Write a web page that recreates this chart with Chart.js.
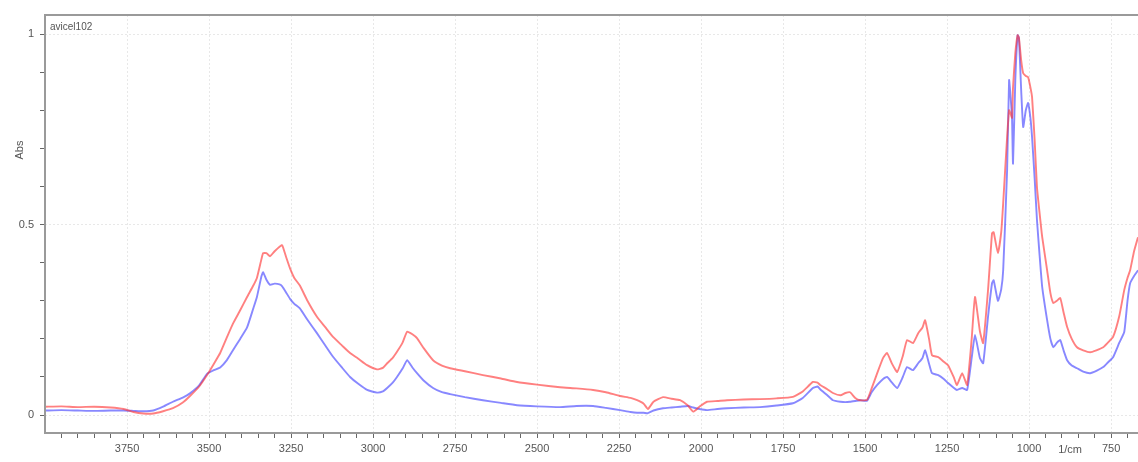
<!DOCTYPE html>
<html>
<head>
<meta charset="utf-8">
<script src="https://cdn.jsdelivr.net/npm/chart.js@4/dist/chart.umd.min.js"></script>
<style>
  html, body { margin: 0; padding: 0; background: #fff; }
  #wrap { width: 1138px; height: 462px; }
</style>
</head>
<body>
<div id="wrap"><canvas id="irChart" width="1138" height="462"></canvas></div>
<script>
// wavenumbers (1/cm) and absorbance of the two spectra
const wavenumbers = [4000, 3950, 3900, 3850, 3800, 3760, 3730, 3700, 3670, 3640, 3610, 3580, 3558, 3530, 3506, 3485, 3466, 3445, 3427, 3405, 3384, 3365, 3354, 3340, 3335, 3325, 3314, 3300, 3285, 3277, 3265, 3253, 3240, 3223, 3200, 3171, 3145, 3122, 3095, 3070, 3045, 3018, 2988, 2970, 2957, 2940, 2927, 2910, 2896, 2880, 2866, 2845, 2817, 2790, 2765, 2720, 2665, 2610, 2561, 2500, 2430, 2380, 2329, 2290, 2247, 2215, 2195, 2175, 2162, 2145, 2116, 2090, 2064, 2040, 2024, 2005, 1982, 1950, 1921, 1870, 1820, 1770, 1720, 1690, 1659, 1645, 1637, 1615, 1598, 1575, 1560, 1546, 1530, 1515, 1494, 1480, 1463, 1445, 1433, 1418, 1402, 1385, 1372, 1354, 1338, 1325, 1317, 1305, 1296, 1277, 1260, 1247, 1230, 1220, 1204, 1189, 1175, 1165, 1150, 1140, 1125, 1113, 1108, 1095, 1085, 1079, 1067, 1061, 1056, 1052, 1049, 1042, 1035, 1031, 1024, 1018, 1010, 1003, 996, 991, 983, 976, 968, 960, 945, 935, 926, 915, 905, 895, 884, 870, 854, 835, 814, 795, 774, 760, 744, 725, 710, 700, 692, 680, 668];
const redAbs = [0.022, 0.023, 0.021, 0.022, 0.020, 0.016, 0.008, 0.004, 0.004, 0.010, 0.018, 0.033, 0.050, 0.075, 0.105, 0.135, 0.163, 0.205, 0.240, 0.275, 0.310, 0.340, 0.360, 0.410, 0.425, 0.425, 0.417, 0.430, 0.442, 0.446, 0.415, 0.385, 0.360, 0.340, 0.300, 0.258, 0.230, 0.205, 0.183, 0.163, 0.148, 0.131, 0.120, 0.124, 0.136, 0.150, 0.166, 0.190, 0.219, 0.212, 0.202, 0.175, 0.144, 0.130, 0.123, 0.115, 0.105, 0.096, 0.087, 0.080, 0.073, 0.070, 0.066, 0.060, 0.050, 0.045, 0.039, 0.030, 0.016, 0.035, 0.047, 0.043, 0.039, 0.025, 0.009, 0.022, 0.035, 0.037, 0.039, 0.041, 0.042, 0.044, 0.048, 0.062, 0.087, 0.085, 0.079, 0.068, 0.058, 0.052, 0.058, 0.060, 0.045, 0.039, 0.040, 0.070, 0.110, 0.150, 0.163, 0.135, 0.113, 0.155, 0.197, 0.189, 0.215, 0.230, 0.249, 0.200, 0.157, 0.152, 0.140, 0.131, 0.100, 0.079, 0.110, 0.079, 0.200, 0.310, 0.220, 0.189, 0.330, 0.477, 0.480, 0.425, 0.480, 0.556, 0.730, 0.800, 0.790, 0.780, 0.860, 0.950, 0.997, 0.990, 0.930, 0.897, 0.890, 0.887, 0.860, 0.835, 0.720, 0.598, 0.530, 0.467, 0.380, 0.320, 0.294, 0.300, 0.307, 0.270, 0.231, 0.200, 0.178, 0.170, 0.165, 0.170, 0.178, 0.190, 0.205, 0.260, 0.328, 0.360, 0.380, 0.430, 0.467];
const blueAbs = [0.012, 0.013, 0.012, 0.011, 0.012, 0.012, 0.011, 0.010, 0.012, 0.022, 0.035, 0.046, 0.057, 0.078, 0.108, 0.118, 0.125, 0.145, 0.170, 0.200, 0.230, 0.280, 0.310, 0.365, 0.375, 0.355, 0.342, 0.345, 0.343, 0.338, 0.322, 0.305, 0.292, 0.280, 0.250, 0.215, 0.182, 0.153, 0.125, 0.100, 0.082, 0.066, 0.059, 0.062, 0.071, 0.085, 0.100, 0.122, 0.144, 0.125, 0.110, 0.090, 0.071, 0.060, 0.055, 0.047, 0.039, 0.032, 0.026, 0.023, 0.021, 0.024, 0.024, 0.019, 0.013, 0.008, 0.006, 0.006, 0.005, 0.012, 0.018, 0.020, 0.022, 0.024, 0.020, 0.016, 0.013, 0.016, 0.018, 0.020, 0.021, 0.025, 0.031, 0.045, 0.071, 0.075, 0.068, 0.052, 0.039, 0.035, 0.034, 0.035, 0.037, 0.039, 0.038, 0.060, 0.079, 0.095, 0.100, 0.085, 0.071, 0.100, 0.126, 0.118, 0.136, 0.150, 0.170, 0.135, 0.110, 0.105, 0.095, 0.084, 0.072, 0.066, 0.071, 0.066, 0.150, 0.210, 0.150, 0.136, 0.260, 0.346, 0.354, 0.300, 0.330, 0.380, 0.643, 0.879, 0.830, 0.780, 0.660, 0.880, 0.997, 0.990, 0.850, 0.756, 0.800, 0.819, 0.780, 0.730, 0.620, 0.512, 0.420, 0.336, 0.249, 0.200, 0.178, 0.190, 0.197, 0.170, 0.144, 0.130, 0.123, 0.114, 0.110, 0.116, 0.126, 0.138, 0.152, 0.190, 0.218, 0.300, 0.346, 0.365, 0.380];

const xMajor = [3750, 3500, 3250, 3000, 2750, 2500, 2250, 2000, 1750, 1500, 1250, 1000, 750];
const yMajor = [0, 0.5, 1];

const toPoints = arr => wavenumbers.map((w, i) => ({ x: w, y: arr[i] }));

const frameAndText = {
  id: 'frameAndText',
  afterDraw(chart) {
    const { ctx, chartArea: a } = chart;
    ctx.save();
    ctx.strokeStyle = '#9a9a9a';
    ctx.lineWidth = 2;
    ctx.beginPath();
    ctx.moveTo(a.right + 2, a.top);
    ctx.lineTo(a.left, a.top);
    ctx.lineTo(a.left, a.bottom);
    ctx.lineTo(a.right + 2, a.bottom);
    ctx.stroke();

    ctx.fillStyle = '#555';
    ctx.font = '10px "Liberation Sans", Arial, sans-serif';
    ctx.textBaseline = 'middle';
    ctx.textAlign = 'left';
    ctx.fillText('avicel102', a.left + 5, a.top + 12);

    ctx.font = '11px "Liberation Sans", Arial, sans-serif';
    ctx.textAlign = 'center';
    const xs = chart.scales.x;
    const mid = (xs.getPixelForValue(1000) + xs.getPixelForValue(750)) / 2;
    ctx.fillText('1/cm', mid, 450);

    ctx.translate(20, 150);
    ctx.rotate(-Math.PI / 2);
    ctx.fillText('Abs', 0, 0);
    ctx.restore();
  }
};

const ctx = document.getElementById('irChart').getContext('2d');
new Chart(ctx, {
  type: 'line',
  data: {
    datasets: [{
      label: 'red',
      data: toPoints(redAbs),
      borderColor: 'rgba(255, 50, 50, 0.62)',
      borderWidth: 1.9,
      pointRadius: 0,
      tension: 0.15,
      fill: false
    }, {
      label: 'blue',
      data: toPoints(blueAbs),
      borderColor: 'rgba(50, 50, 255, 0.58)',
      borderWidth: 1.9,
      pointRadius: 0,
      tension: 0.15,
      fill: false
    }]
  },
  options: {
    responsive: false,
    animation: false,
    layout: { padding: { top: 15, right: 0, left: 0, bottom: 0 } },
    plugins: { legend: { display: false }, tooltip: { enabled: false } },
    scales: {
      x: {
        type: 'linear',
        reverse: true,
        min: 668,
        max: 4000,
        afterBuildTicks(scale) {
          const t = [];
          for (let v = 700; v <= 3950; v += 50) t.push({ value: v });
          scale.ticks = t;
        },
        afterFit(scale) { scale.height = 29; },
        ticks: {
          autoSkip: false,
          maxRotation: 0,
          padding: 4,
          color: '#555',
          font: { family: '"Liberation Sans", Arial, sans-serif', size: 11 },
          callback: v => xMajor.includes(v) ? String(v) : ''
        },
        grid: {
          color: c => (c.tick && xMajor.includes(c.tick.value)) ? '#e8e8e8' : 'rgba(0,0,0,0)',
          tickColor: '#666',
          tickLength: 5,
          lineWidth: 1
        },
        border: { display: false, dash: [2, 2] }
      },
      y: {
        min: -0.047,
        max: 1.05,
        afterBuildTicks(scale) {
          const t = [];
          for (let i = 0; i <= 10; i++) t.push({ value: i / 10 });
          scale.ticks = t;
        },
        afterFit(scale) { scale.width = 45; },
        ticks: {
          padding: 6,
          color: '#555',
          font: { family: '"Liberation Sans", Arial, sans-serif', size: 11 },
          callback: v => yMajor.includes(v) ? String(v) : ''
        },
        grid: {
          color: c => (c.tick && yMajor.includes(c.tick.value)) ? '#e8e8e8' : 'rgba(0,0,0,0)',
          tickColor: '#666',
          tickLength: 5,
          lineWidth: 1
        },
        border: { display: false, dash: [2, 2] }
      }
    }
  },
  plugins: [frameAndText]
});
</script>
</body>
</html>
